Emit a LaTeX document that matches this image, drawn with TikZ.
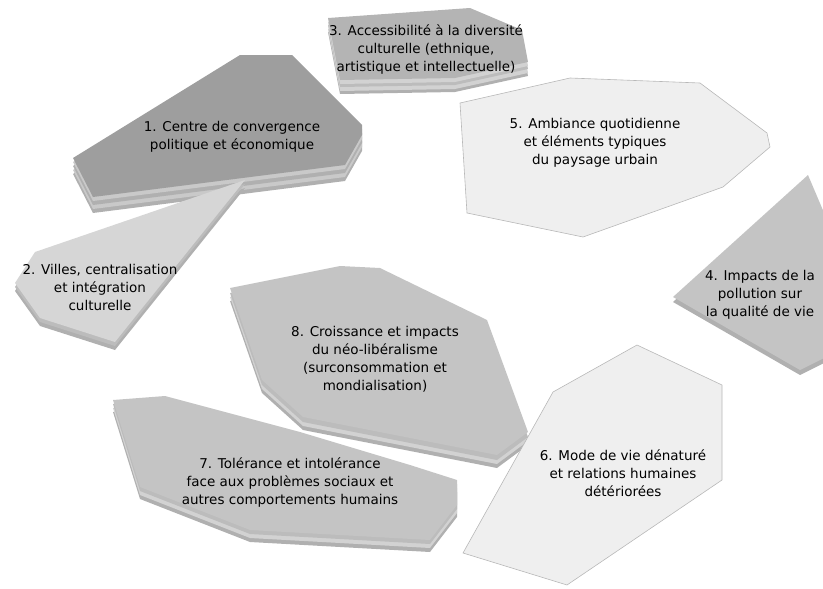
\documentclass[tikz,border=0pt]{standalone}
\usepackage{fontspec}
\setmainfont{DejaVu Sans}
\usetikzlibrary{positioning}
\definecolor{faceDark}{HTML}{9E9E9E}
\definecolor{faceMid}{HTML}{B4B4B4}
\definecolor{faceGrey}{HTML}{C4C4C4}
\definecolor{faceSoft}{HTML}{D6D6D6}
\definecolor{faceLight}{HTML}{EFEFEF}
\definecolor{edgeLight}{HTML}{B8B8B8}
\definecolor{sideA}{HTML}{B0B0B0}
\definecolor{sideB}{HTML}{C9C9C9}
\definecolor{sideC}{HTML}{BCBCBC}
\definecolor{sideD}{HTML}{D2D2D2}
\tikzset{
  tileText/.style={%
    align=center, inner sep=0pt, font=\fontsize{13.5}{18}\selectfont,
  },
  flatTile/.style={%
    fill=faceLight, draw=edgeLight, line width=0.6pt,
  }
}
% face colour, side layers (depth/colour), outline
\newcommand{\slab}[3]{%
  \foreach \dep/\col in {#2}{\fill[\col, shift={(0,\dep)}] #3;}
  \fill[#1] #3;
}

\begin{document}
\begin{tikzpicture}[x=1pt,y=-1pt]
  \useasboundingbox (0,0) rectangle (823,589);
  \clip (0,0) rectangle (823,589);
  % 3
  \slab{faceMid}{14/sideA,11/sideD,7/sideC,4/sideD}
    {(328,18) -- (470,8) -- (522,30) -- (528,62) -- (455,78) -- (340,80) -- cycle}
  % 1
  \slab{faceDark}{16/sideA,12/sideB,8/sideA,4/sideB}
    {(73,158) -- (240,55) -- (292,55) -- (362,125) -- (362,135) -- (345,165) -- (93,197) -- cycle}
  % 2
  \slab{faceSoft}{8/sideA,4/sideC}
    {(245,180) -- (35,252) -- (15,283) -- (40,318) -- (115,342) -- cycle}
  % 5
  \draw[flatTile] (460,103) -- (570,78) -- (700,83) -- (767,133) -- (770,147)
    -- (723,187) -- (583,237) -- (467,213) -- cycle;
  % 4
  \slab{faceGrey}{5/sideA}
    {(673,297) -- (808,175) -- (825,215) -- (840,350) -- (800,370) -- cycle}
  % 8
  \slab{faceGrey}{13/sideA,9/sideD,5/sideC}
    {(230,288) -- (340,266) -- (380,268) -- (487,320) -- (528,432) -- (497,455) -- (303,417) -- (262,380) -- cycle}
  % 7
  \slab{faceGrey}{12/sideA,8/sideD,4/sideC}
    {(113,400) -- (165,396) -- (300,432) -- (410,465) -- (457,480) -- (457,505) -- (430,540) -- (250,530) -- (140,487) -- cycle}
  % 6
  \draw[flatTile] (637,345) -- (722,385) -- (722,480) -- (567,585) -- (463,553)
    -- (553,392) -- cycle;

  \node[tileText] (txtOne) at (232,137)
    {1. Centre de convergence\\politique et économique};
  \node[tileText] (txtTwo) at (100,287)
    {2. Villes, centralisation\\et intégration\\culturelle};
  \node[tileText] (txtThree) at (426,50)
    {3. Accessibilité à la diversité\\culturelle (ethnique,\\artistique et intellectuelle)};
  \node[tileText] (txtFour) at (760,295)
    {4. Impacts de la\\pollution sur\\la qualité de vie};
  \node[tileText] (txtFive) at (595,143)
    {5. Ambiance quotidienne\\et éléments typiques\\du paysage urbain};
  \node[tileText] (txtSix) at (623,473)
    {6. Mode de vie dénaturé\\et relations humaines\\détériorées};
  \node[tileText] (txtSeven) at (290,483)
    {7. Tolérance et intolérance\\face aux problèmes sociaux et\\autres comportements humains};
  \node[tileText] (txtEight) at (375,359)
    {8. Croissance et impacts\\du néo-libéralisme\\(surconsommation et\\mondialisation)};
\end{tikzpicture}
\end{document}
